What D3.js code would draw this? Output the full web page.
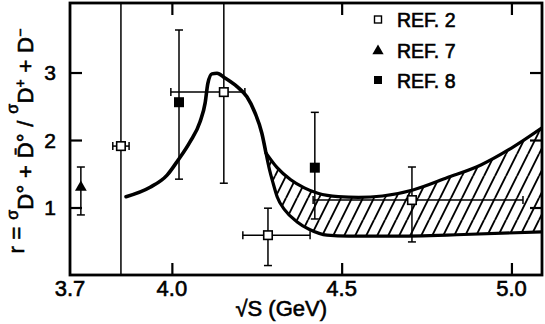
<!DOCTYPE html>
<html>
<head>
<meta charset="utf-8">
<script src="https://cdn.jsdelivr.net/npm/d3@7"></script>
<style>
  html, body { margin: 0; padding: 0; background: #fff; }
  svg { display: block; font-family: "Liberation Sans", Arial, sans-serif; }
  .lbl { fill: #000; stroke: #000; stroke-width: 0.6; }
</style>
</head>
<body>
<svg id="chart" width="545" height="324"></svg>
<script>
// ---------- data ----------
const xTickValues = [3.7, 4.0, 4.5, 5.0];
const xTickLabels = ["3.7", "4.0", "4.5", "5.0"];
const yTickValues = [1, 2, 3];
const yTickLabels = ["1", "2", "3"];

// theory curve (single part, up to the fork)
const curveX = [3.865, 3.936, 3.986, 4.018, 4.053, 4.083, 4.098, 4.106, 4.118, 4.133, 4.156, 4.192, 4.221, 4.245, 4.265, 4.277];
const curveY = [1.16, 1.30, 1.48, 1.70, 1.97, 2.27, 2.55, 2.84, 2.98, 2.99, 2.92, 2.79, 2.64, 2.40, 2.10, 1.81];
// band upper edge
const upperX = [4.277, 4.31, 4.35, 4.39, 4.43, 4.49, 4.55, 4.62, 4.71, 4.81, 4.91, 5.00, 5.09];
const upperY = [1.81, 1.59, 1.41, 1.29, 1.21, 1.16, 1.15, 1.17, 1.26, 1.44, 1.63, 1.88, 2.18];
// band lower edge
const lowerX = [4.277, 4.288, 4.297, 4.31, 4.333, 4.368, 4.407, 4.457, 4.52, 4.65, 4.86, 5.09];
const lowerY = [1.81, 1.55, 1.38, 1.16, 0.96, 0.79, 0.67, 0.59, 0.575, 0.575, 0.60, 0.64];

// REF. 2 (open squares)
const ref2X   = [3.85, 4.153, 4.283, 4.707];
const ref2Y   = [1.91, 2.71, 0.59, 1.11];
const ref2YLo = [-0.3, 1.36, 0.14, 0.49];
const ref2YHi = [4.3, 4.3, 0.99, 1.60];
const ref2XLo = [3.826, 3.997, 4.209, 4.416];
const ref2XHi = [3.874, 4.215, 4.407, 5.034];
// REF. 7 (triangle)
const ref7X   = [3.732];
const ref7Y   = [1.30];
const ref7YLo = [0.89];
const ref7YHi = [1.60];
// REF. 8 (filled squares)
const ref8X   = [4.021, 4.421];
const ref8Y   = [2.56, 1.59];
const ref8YLo = [1.42, 0.83];
const ref8YHi = [3.63, 2.41];

const legendLabels = ["REF. 2", "REF. 7", "REF. 8"];

// ---------- layout ----------
const svg = d3.select("#chart");
const L = 70, R = 542, T = 3, B = 275;
const xDomain = [3.7, 5.09], yDomain = [0, 4.03];
const x = d3.scaleLinear().domain(xDomain).range([L, R]);
const y = d3.scaleLinear().domain(yDomain).range([B, T]);

const defs = svg.append("defs");
defs.append("clipPath").attr("id", "plotClip")
  .append("rect").attr("x", L).attr("y", T).attr("width", R - L).attr("height", B - T);
const pat = defs.append("pattern").attr("id", "hatch")
  .attr("patternUnits", "userSpaceOnUse").attr("width", 11).attr("height", 22);
pat.append("path").attr("d", "M-11,22 L0,0 M0,22 L11,0 M11,22 L22,0")
  .attr("stroke", "#000").attr("stroke-width", 1.9).attr("fill", "none");

const plot = svg.append("g").attr("clip-path", "url(#plotClip)");

// ---------- hatched band ----------
const line = d3.line().x(d => x(d[0])).y(d => y(d[1])).curve(d3.curveMonotoneX);
const upperPts = upperX.map((v, i) => [v, upperY[i]]);
const lowerPts = lowerX.map((v, i) => [v, lowerY[i]]);
const lineRev = d3.line().x(d => x(d[0])).y(d => y(d[1])).curve(d3.curveMonotoneX);
const bandPath = line(upperPts) + "L" + lineRev(lowerPts.slice().reverse()).slice(1) + "Z";
plot.append("path").attr("d", bandPath).attr("fill", "url(#hatch)").attr("stroke", "none");

// curves
const curvePts = curveX.map((v, i) => [v, curveY[i]]);
plot.append("path").attr("d", line(curvePts)).attr("fill", "none").attr("stroke", "#000").attr("stroke-width", 3.6).attr("stroke-linecap", "round");
plot.append("path").attr("d", line(upperPts)).attr("fill", "none").attr("stroke", "#000").attr("stroke-width", 3.2);
plot.append("path").attr("d", line(lowerPts)).attr("fill", "none").attr("stroke", "#000").attr("stroke-width", 3.2);

// ---------- error bars ----------
const cap = 4;
function errorBars(xs, ys, ylo, yhi, xlo, xhi) {
  const g = plot.append("g").attr("stroke", "#000").attr("stroke-width", 1.5).attr("fill", "none");
  xs.forEach((xv, i) => {
    g.append("line").attr("x1", x(xv)).attr("x2", x(xv)).attr("y1", y(ylo[i])).attr("y2", y(yhi[i]));
    if (ylo[i] > yDomain[0]) g.append("line").attr("x1", x(xv) - cap).attr("x2", x(xv) + cap).attr("y1", y(ylo[i])).attr("y2", y(ylo[i]));
    if (yhi[i] < yDomain[1]) g.append("line").attr("x1", x(xv) - cap).attr("x2", x(xv) + cap).attr("y1", y(yhi[i])).attr("y2", y(yhi[i]));
    if (xlo) {
      g.append("line").attr("x1", x(xlo[i])).attr("x2", x(xhi[i])).attr("y1", y(ys[i])).attr("y2", y(ys[i]));
      g.append("line").attr("x1", x(xlo[i])).attr("x2", x(xlo[i])).attr("y1", y(ys[i]) - cap).attr("y2", y(ys[i]) + cap);
      g.append("line").attr("x1", x(xhi[i])).attr("x2", x(xhi[i])).attr("y1", y(ys[i]) - cap).attr("y2", y(ys[i]) + cap);
    }
  });
}
errorBars(ref2X, ref2Y, ref2YLo, ref2YHi, ref2XLo, ref2XHi);
errorBars(ref7X, ref7Y, ref7YLo, ref7YHi, null, null);
errorBars(ref8X, ref8Y, ref8YLo, ref8YHi, null, null);

// ---------- markers ----------
const sq = 8.5, fsq = 10;
plot.append("g").selectAll("rect").data(ref2X).join("rect")
  .attr("x", (d) => x(d) - sq / 2).attr("y", (d, i) => y(ref2Y[i]) - sq / 2)
  .attr("width", sq).attr("height", sq).attr("fill", "#fff").attr("stroke", "#000").attr("stroke-width", 1.6);
plot.append("g").selectAll("rect").data(ref8X).join("rect")
  .attr("x", (d) => x(d) - fsq / 2).attr("y", (d, i) => y(ref8Y[i]) - fsq / 2)
  .attr("width", fsq).attr("height", fsq).attr("fill", "#000");
const tri = d3.symbol().type(d3.symbolTriangle).size(60);
plot.append("g").selectAll("path").data(ref7X).join("path")
  .attr("transform", (d, i) => `translate(${x(d)},${y(ref7Y[i])})`)
  .attr("d", tri()).attr("fill", "#000");

// ---------- axes / frame ----------
const tickLen = 12;
const xTickMarks = xTickValues.filter(v => v > xDomain[0]);
const axB = svg.append("g").attr("transform", `translate(0,${B})`)
  .call(d3.axisBottom(x).tickValues(xTickMarks).tickSize(-tickLen).tickFormat(""));
const axT = svg.append("g").attr("transform", `translate(0,${T})`)
  .call(d3.axisTop(x).tickValues(xTickMarks).tickSize(-tickLen).tickFormat(""));
const axL = svg.append("g").attr("transform", `translate(${L},0)`)
  .call(d3.axisLeft(y).tickValues(yTickValues).tickSize(-tickLen).tickFormat(""));
const axR = svg.append("g").attr("transform", `translate(${R},0)`)
  .call(d3.axisRight(y).tickValues(yTickValues).tickSize(-tickLen).tickFormat(""));
[axB, axT, axL, axR].forEach(a => {
  a.select(".domain").remove();
  a.selectAll(".tick line").attr("stroke", "#000").attr("stroke-width", 2.2);
});

svg.append("rect").attr("x", L).attr("y", T).attr("width", R - L).attr("height", B - T)
  .attr("fill", "none").attr("stroke", "#000").attr("stroke-width", 2.8);

// tick labels
svg.append("g").selectAll("text").data(xTickValues).join("text").attr("class", "lbl")
  .attr("x", d => x(d)).attr("y", 296).attr("text-anchor", "middle")
  .attr("font-size", 22)
  .text((d, i) => xTickLabels[i]);
svg.append("g").selectAll("text").data(yTickValues).join("text").attr("class", "lbl")
  .attr("x", 56).attr("y", d => y(d) + 7.5).attr("text-anchor", "end")
  .attr("font-size", 21)
  .text((d, i) => yTickLabels[i]);

// x axis title
svg.append("text").attr("class", "lbl").attr("x", 327).attr("y", 316).attr("text-anchor", "end")
  .attr("font-size", 22).text("\u221AS (GeV)");

// y axis title
const yt = svg.append("text").attr("class", "lbl").attr("transform", "translate(33,141) rotate(-90)")
  .attr("text-anchor", "middle").attr("font-size", 22)
  .attr("textLength", 225).attr("lengthAdjust", "spacing");
yt.append("tspan").attr("dy", -9).text("r = ");
yt.append("tspan").attr("dy", -6).attr("font-size", 16).text("\u03C3");
yt.append("tspan").attr("dy", 15).text("D\u00B0 + D\u0304\u00B0 / ");
yt.append("tspan").attr("dy", -15).attr("font-size", 16).text("\u03C3");
yt.append("tspan").attr("dy", 15).text("D");
yt.append("tspan").attr("dy", -8).attr("font-size", 14).text("+");
yt.append("tspan").attr("dy", 8).text(" + D");
yt.append("tspan").attr("dy", -8).attr("font-size", 14).text("\u2212");

// ---------- legend ----------
const lg = svg.append("g");
const legY = [27, 58, 88];
legendLabels.forEach((lab, i) => {
  lg.append("text").attr("class", "lbl").attr("x", 397).attr("y", legY[i]).attr("font-size", 19.5).text(lab);
});
lg.append("rect").attr("x", 374.5).attr("y", legY[0] - 11).attr("width", 7).attr("height", 7)
  .attr("fill", "#fff").attr("stroke", "#000").attr("stroke-width", 1.4);
lg.append("path").attr("transform", `translate(378,${legY[1] - 7})`)
  .attr("d", d3.symbol().type(d3.symbolTriangle).size(55)()).attr("fill", "#000");
lg.append("rect").attr("x", 374).attr("y", legY[2] - 12).attr("width", 8).attr("height", 8).attr("fill", "#000");
</script>
</body>
</html>
